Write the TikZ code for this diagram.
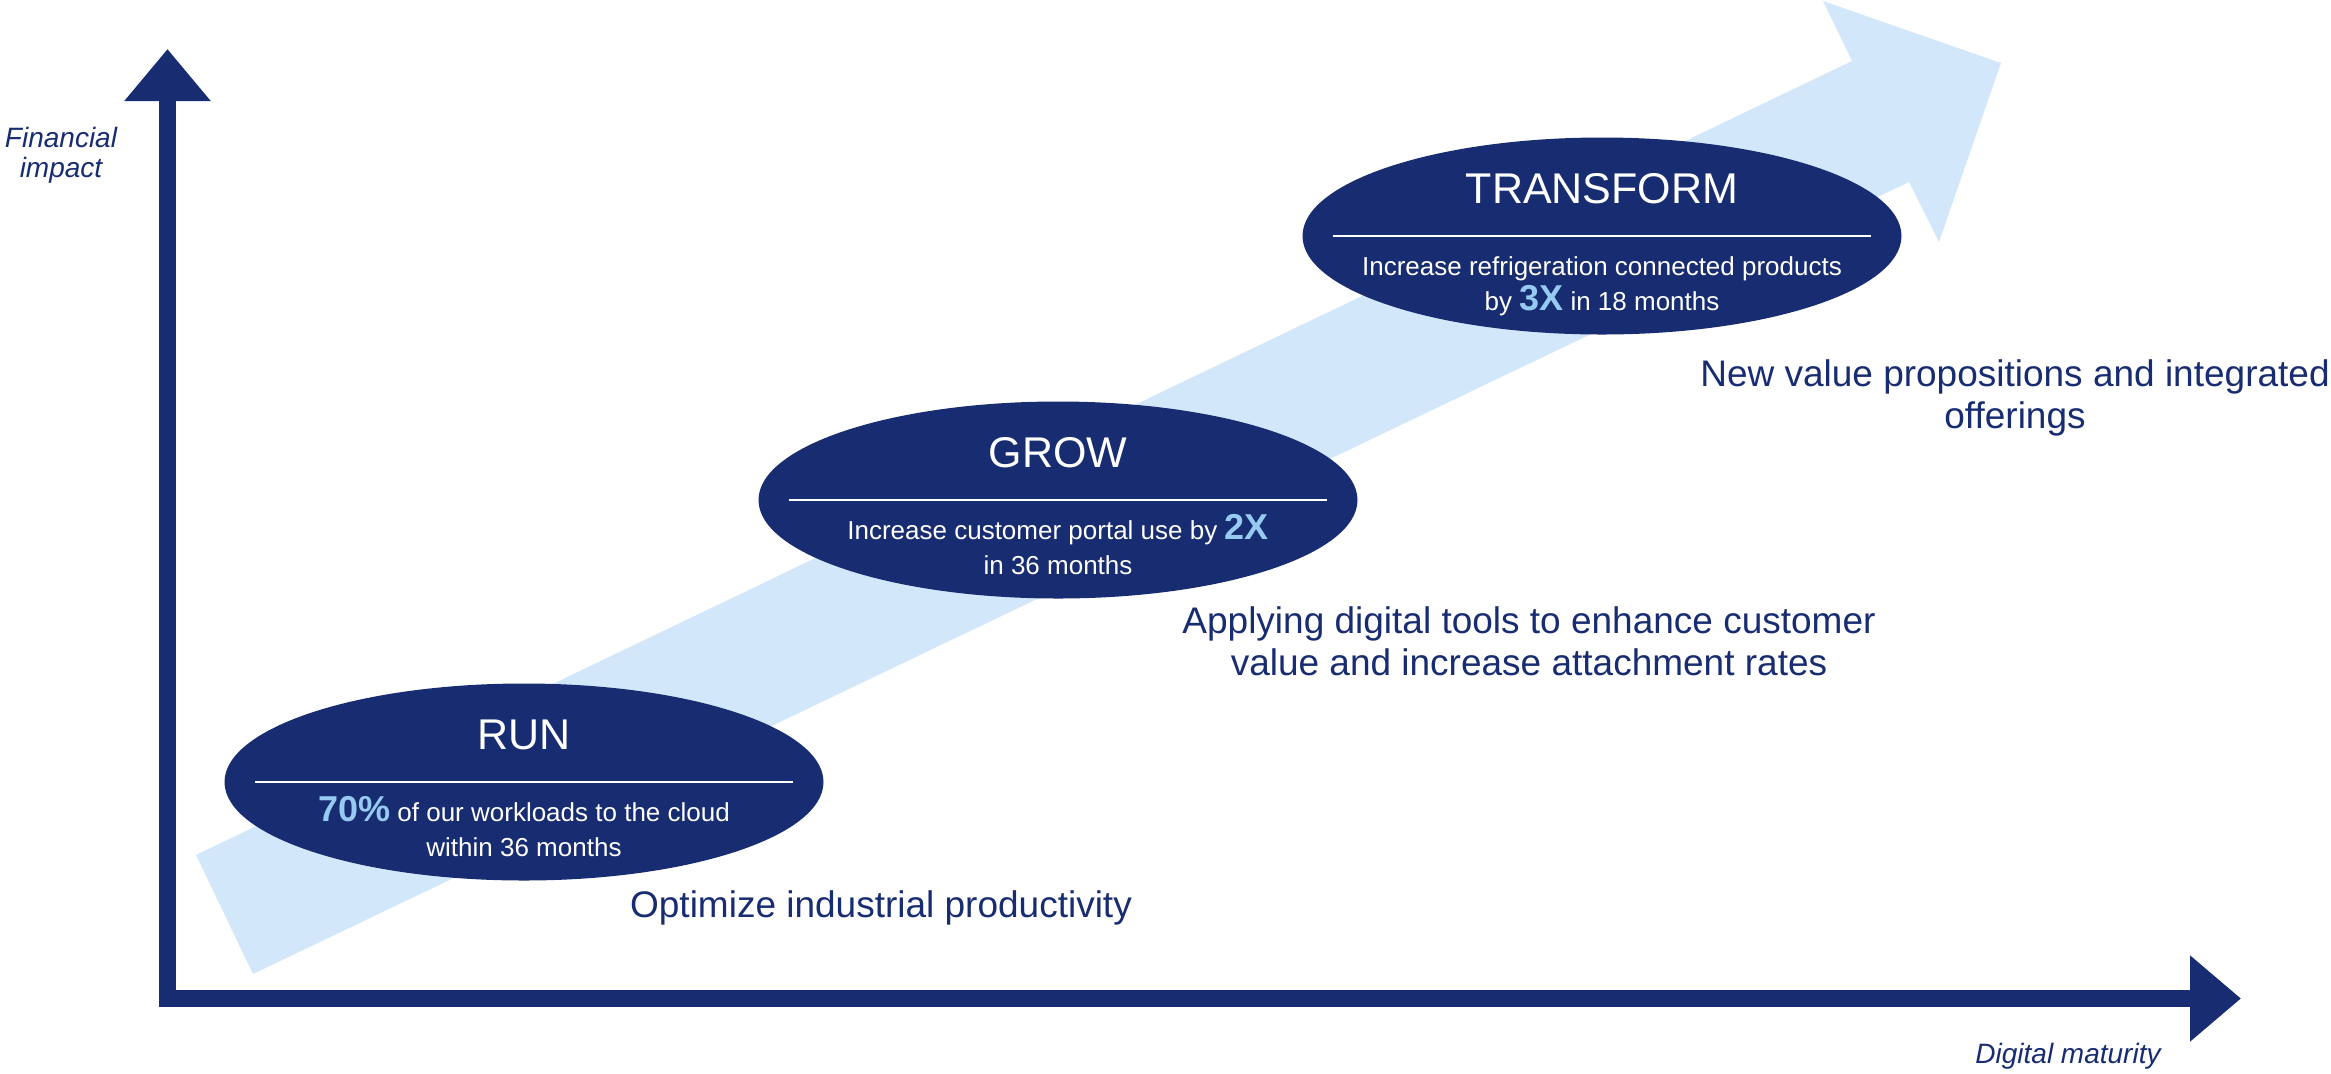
\documentclass[tikz,border=0pt]{standalone}
\usepackage{fontspec}
\setmainfont{Liberation Sans}
\usetikzlibrary{arrows.meta,shapes.geometric}
\definecolor{deepblue}{RGB}{24,44,113}
\definecolor{paleblue}{RGB}{210,232,250}
\definecolor{brightblue}{RGB}{150,202,241}
\newcommand{\bignum}[1]{{\fontsize{18}{18}\selectfont\bfseries\color{brightblue}#1}}
\begin{document}
\begin{tikzpicture}[x=0.5pt,y=-0.5pt]
\tikzstyle{phase}=[ellipse,fill=deepblue,inner sep=0pt,minimum width=299.5pt,minimum height=98.5pt]
\tikzstyle{phasetitle}=[anchor=base,inner sep=0pt,text=white,font=\fontsize{21.5}{25}\selectfont]
\tikzstyle{phasetext}=[anchor=base,inner sep=0pt,text=white,align=center,font=\fontsize{13}{17.5}\selectfont]
\tikzstyle{rule}=[white,line width=0.8pt]
\tikzstyle{goal}=[anchor=base,inner sep=0pt,text=deepblue,align=center,font=\fontsize{18.5}{21}\selectfont]
\tikzstyle{axislabel}=[anchor=base,inner sep=0pt,text=deepblue,align=center,font=\fontsize{14}{15}\selectfont\itshape]
\tikzstyle{axis}=[deepblue,line width=8.5pt,line join=miter,{Triangle[length=26pt,width=41.5pt]}-{Triangle[length=25.5pt,width=41.5pt]}]
\useasboundingbox (0,0) rectangle (2331,1073);
% big arrow behind the stages
\fill[paleblue] (196,855) -- (1852,61) -- (1823,1) -- (2001,63) -- (1939,242) -- (1909,182) -- (253,974) -- cycle;
% axes
\coordinate (ytip) at (167.5,49);
\coordinate (origin) at (167.5,998.5);
\coordinate (xtip) at (2241,998.5);
\draw[axis] (ytip) -- (origin) -- (xtip);
\node[axislabel] (yname) at (61,177) {Financial\\impact};
\node[axislabel] (xname) at (2068,1063) {Digital maturity};
% stages
\node[phase] (run) at (524,782) {};
\node[phase] (grow) at (1058,500) {};
\node[phase] (transform) at (1602,236) {};
\node[phasetitle] (runtitle) at ([yshift=16.5pt]run.center) {RUN};
\node[phasetitle] (growtitle) at ([yshift=16.5pt]grow.center) {GROW};
\node[phasetitle] (transformtitle) at ([yshift=16.5pt]transform.center) {TRANSFORM};
\draw[rule] ([xshift=-134.5pt]run.center) -- ([xshift=134.5pt]run.center);
\draw[rule] ([xshift=-134.5pt]grow.center) -- ([xshift=134.5pt]grow.center);
\draw[rule] ([xshift=-134.5pt]transform.center) -- ([xshift=134.5pt]transform.center);
% base of a two-line node sits on its last line
\node[phasetext] (runtext) at ([yshift=-37pt]run.center) {\bignum{70\%} of our workloads to the cloud\\within 36 months};
\node[phasetext] (growtext) at ([yshift=-37pt]grow.center) {Increase customer portal use by \bignum{2X}\\in 36 months};
\node[phasetext] (transformtext) at ([yshift=-37pt]transform.center) {Increase refrigeration connected products\\by \bignum{3X} in 18 months};
% what each stage brings
\node[goal] (optimize) at (881,917) {Optimize industrial productivity};
\node[goal] (applying) at (1529,675) {Applying digital tools to enhance customer\\value and increase attachment rates};
\node[goal] (newvalue) at (2015,428) {New value propositions and integrated\\offerings};
\end{tikzpicture}
\end{document}
